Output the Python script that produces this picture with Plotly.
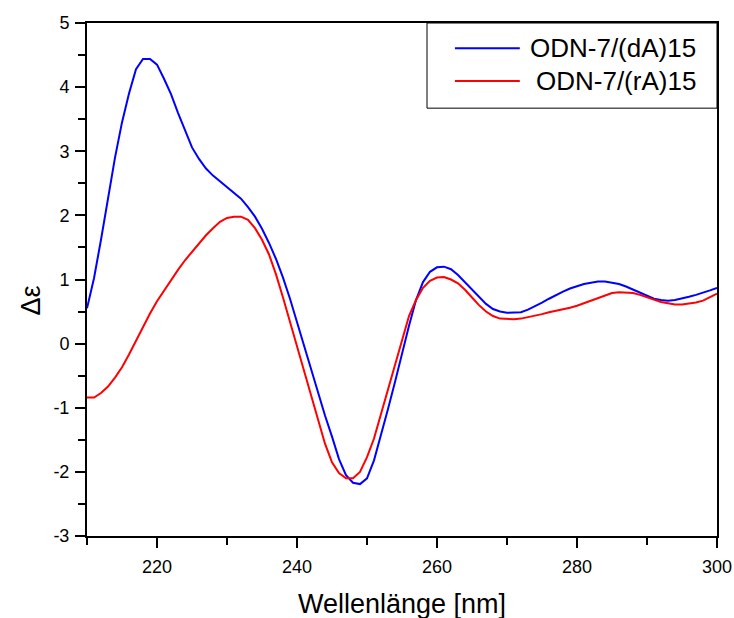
import plotly.graph_objects as go

# CD spectra: wavelength (nm) and molar ellipticity difference
wavelength = list(range(210, 301))

dA15 = [
    0.55, 1.02, 1.62, 2.28, 2.90, 3.45, 3.90, 4.28, 4.44, 4.44,
    4.35, 4.13, 3.89, 3.60, 3.32, 3.06, 2.88, 2.73, 2.62, 2.53,
    2.45, 2.36, 2.26, 2.13, 1.98, 1.79, 1.57, 1.32, 1.03, 0.70,
    0.33, -0.03, -0.40, -0.77, -1.12, -1.45, -1.80, -2.05, -2.17, -2.19,
    -2.10, -1.82, -1.44, -1.02, -0.60, -0.15, 0.28, 0.68, 0.96, 1.12,
    1.19, 1.20, 1.16, 1.07, 0.96, 0.84, 0.73, 0.62, 0.54, 0.50,
    0.48, 0.48, 0.49, 0.53, 0.58, 0.64, 0.70, 0.76, 0.81, 0.86,
    0.90, 0.93, 0.95, 0.97, 0.97, 0.95, 0.93, 0.89, 0.84, 0.79,
    0.74, 0.70, 0.68, 0.67, 0.68, 0.70, 0.73, 0.76, 0.79, 0.83,
    0.87,
]

rA15 = [
    -0.84, -0.84, -0.77, -0.67, -0.53, -0.37, -0.17, 0.05, 0.27, 0.47,
    0.66, 0.83, 1.00, 1.15, 1.30, 1.43, 1.56, 1.69, 1.80, 1.90,
    1.96, 1.98, 1.98, 1.93, 1.80, 1.62, 1.39, 1.08, 0.72, 0.34,
    -0.05, -0.44, -0.82, -1.20, -1.56, -1.85, -2.02, -2.10, -2.10, -2.00,
    -1.77, -1.48, -1.10, -0.70, -0.31, 0.08, 0.43, 0.68, 0.87, 0.98,
    1.03, 1.04, 1.00, 0.94, 0.84, 0.72, 0.60, 0.50, 0.43, 0.39,
    0.38, 0.38, 0.39, 0.41, 0.43, 0.46, 0.49, 0.51, 0.53, 0.56,
    0.59, 0.63, 0.67, 0.72, 0.76, 0.79, 0.80, 0.80, 0.79, 0.76,
    0.72, 0.68, 0.65, 0.63, 0.61, 0.61, 0.62, 0.64, 0.67, 0.72,
    0.78,
]

series_names = ["ODN-7/(dA)15", "ODN-7/(rA)15"]
series_colors = ["#0000FF", "#FF0000"]

x_ticks = [220, 240, 260, 280, 300]
y_ticks = list(range(-3, 6))
y_ticklabels = [str(v) for v in y_ticks]  # plain hyphen for negatives

FONT = "Liberation Sans, Arial, sans-serif"

fig = go.Figure()
for name, vals, col in zip(series_names, [dA15, rA15], series_colors):
    fig.add_trace(go.Scatter(
        x=wavelength, y=vals, mode="lines", name=name,
        line=dict(color=col, width=2), showlegend=False,
    ))

axis_common = dict(
    showgrid=False, zeroline=False, automargin=False,
    showline=True, linecolor="black", linewidth=2, mirror=True,
    ticks="outside", ticklen=10, tickwidth=2, tickcolor="black",
    tickfont=dict(family=FONT, size=18, color="black"),
)

fig.update_xaxes(
    range=[210, 300], tickvals=x_ticks,
    minor=dict(tickvals=[210, 230, 250, 270, 290], ticks="outside",
               ticklen=7, tickwidth=2, tickcolor="black"),
    ticklabelstandoff=3,
    **axis_common,
)
fig.update_yaxes(
    range=[-3, 5], tickvals=y_ticks, ticktext=y_ticklabels,
    minor=dict(dtick=0.5, ticks="outside", ticklen=7, tickwidth=2,
               tickcolor="black"),
    ticklabelstandoff=2,
    **axis_common,
)

# Axis titles
fig.add_annotation(text="Wellenlänge [nm]", xref="paper", yref="paper",
                   x=0.5, y=-0.1326, xanchor="center", yanchor="middle",
                   showarrow=False, font=dict(family=FONT, size=27, color="black"))
fig.add_annotation(text="Δε", xref="paper", yref="paper",
                   x=-0.0889, y=0.459, xanchor="center", yanchor="middle",
                   textangle=-90, showarrow=False,
                   font=dict(family=FONT, size=27, color="black"))

# Legend box in the upper right corner
fig.add_shape(type="rect", xref="paper", yref="paper",
              x0=0.5397, x1=1.0, y0=0.834, y1=1.0,
              line=dict(color="black", width=1), fillcolor="white", layer="above")
legend_rows = [0.9507, 0.887]
for name, col, yy in zip(series_names, series_colors, legend_rows):
    fig.add_shape(type="line", xref="paper", yref="paper",
                  x0=0.584, x1=0.687, y0=yy, y1=yy,
                  line=dict(color=col, width=2), layer="above")
    fig.add_annotation(text=name, xref="paper", yref="paper",
                       x=0.970, y=yy, xanchor="right", yanchor="middle",
                       showarrow=False,
                       font=dict(family=FONT, size=26, color="black"))

fig.update_layout(
    width=734, height=618,
    margin=dict(l=87, r=17, t=23, b=82),
    paper_bgcolor="white", plot_bgcolor="white",
)

fig.write_html("out.html")
